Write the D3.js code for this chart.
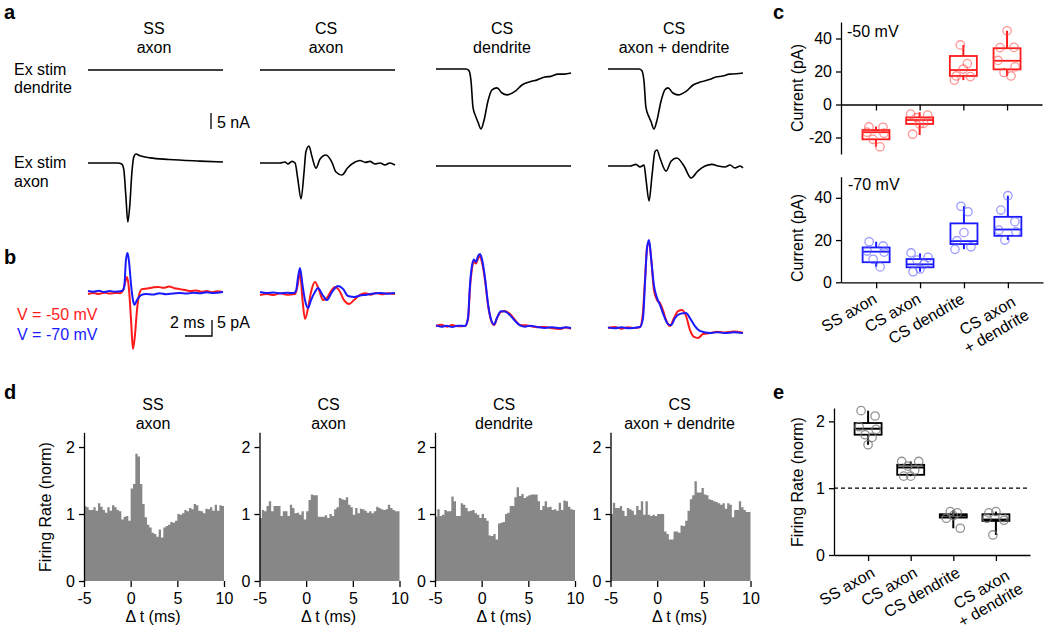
<!DOCTYPE html>
<html><head><meta charset="utf-8">
<script src="https://cdn.jsdelivr.net/npm/d3@7"></script>
<style>
body{margin:0;background:#fff}
svg{display:block}
text{font-family:"Liberation Sans",Arial,Helvetica,sans-serif;font-size:16px;fill:#000}
</style>
</head><body>
<svg id="fig" width="1050" height="640"></svg>
<script>
// ---------------- DATA ----------------
const colTitles = [["SS","axon"],["CS","axon"],["CS","dendrite"],["CS","axon + dendrite"]];
const rowLabels = [["Ex stim","dendrite"],["Ex stim","axon"]];
const legendLabels = ["V = -50 mV","V = -70 mV"];
const categories = ["SS axon","CS axon","CS dendrite","CS axon + dendrite"];
const catLabelLines = [["SS axon"],["CS axon"],["CS dendrite"],["CS axon","+ dendrite"]];

// panel a: [time ms, current nA]
const flatTrace = [[0,0],[10,0]];
const aSSaxon = [[0,0],[2.2,0],[2.5,-0.3],[2.65,-2],[2.8,-10],[2.95,-18.4],[3.1,-13],[3.25,-3],[3.4,2],[3.55,2.8],[3.85,2.3],[4.6,1.6],[6,1.1],[8.3,0.6],[10,0.3]];
const aCSaxon = [[0,0],[1.48,0],[1.85,0.3],[2.07,-0.3],[2.37,0.5],[2.6,0],[2.8,-5],[3.04,-11.2],[3.26,-3],[3.4,3.5],[3.63,5.3],[3.85,2],[4.15,-1.6],[4.44,1.2],[4.89,2.5],[5.33,0.2],[5.63,-2.8],[6.07,-3.75],[6.5,-1.5],[7.04,0.3],[7.4,0.8],[7.8,0.2],[8.15,0.5],[8.5,-0.3],[8.9,0],[9.26,-0.6],[9.6,0],[10,-0.6]];
const aCSdend = [[0,0],[2.22,0],[2.44,-0.5],[2.6,-4],[2.74,-12],[2.96,-15],[3.1,-16.5],[3.33,-18.75],[3.56,-16],[3.85,-10],[4.15,-6.5],[4.52,-5.9],[4.89,-7.5],[5.26,-8.1],[5.85,-7],[6.37,-5],[6.96,-4],[7.5,-3.4],[8.07,-2.5],[8.5,-2.3],[9.04,-1.6],[9.5,-1.6],[10,-1.25]];
const aADdend = [[0,0],[2.3,0],[2.5,-0.5],[2.67,-4],[2.81,-12],[3.04,-15],[3.19,-16.5],[3.4,-18.75],[3.63,-16],[3.93,-10],[4.22,-6.5],[4.44,-5.9],[4.81,-7.5],[5.19,-8.1],[5.78,-7],[6.3,-5],[6.9,-4],[7.5,-3.3],[8.0,-2.5],[8.5,-2.2],[9.0,-1.6],[9.5,-1.5],[10,-1.25]];
const aADaxon = [[0,0],[1.63,0],[2.07,0.5],[2.37,-0.3],[2.67,0.3],[2.81,-4],[3.04,-10.9],[3.26,-3],[3.48,4.5],[3.63,5],[3.85,2.5],[4.3,-1.6],[4.67,1.5],[5.1,2.5],[5.63,0],[6.15,-3.75],[6.67,-1.5],[7.19,0],[7.7,0.5],[8.15,0],[8.67,-0.3],[9.04,0.3],[9.4,-0.6],[9.78,0],[10,-0.6]];
const aDendRow = [flatTrace, flatTrace, aCSdend, aADdend];
const aAxonRow = [aSSaxon, aCSaxon, flatTrace, aADaxon];

// panel b: [time ms, current pA]
const bSSred = [[0,-0.6],[0.4,-0.3],[0.8,-0.6],[1.2,-0.2],[1.6,-0.5],[2.0,-0.3],[2.4,-0.4],[2.6,0.5],[2.74,2.8],[2.9,4.7],[3.04,0.6],[3.19,-8.8],[3.33,-17.8],[3.48,-13.4],[3.63,-5.6],[3.78,-0.9],[4.0,0.9],[4.4,1.1],[4.8,1.4],[5.2,1.6],[5.6,1.3],[6.0,1.7],[6.4,1.2],[6.8,0.9],[7.2,0.6],[7.6,0.3],[8.0,0.5],[8.4,0.1],[8.8,0.3],[9.2,-0.1],[9.6,0.2],[10,0]];
const bSSblue = [[0,0.3],[0.4,0.1],[0.8,0.4],[1.2,0],[1.6,0.3],[2.0,0.1],[2.4,0.2],[2.6,0.6],[2.7,2.2],[2.81,10],[2.93,12.2],[3.04,9.4],[3.19,2.2],[3.33,-2.5],[3.44,-4],[3.63,-2.5],[3.93,-1],[4.3,-0.6],[4.8,-0.8],[5.3,-0.4],[5.8,-0.7],[6.3,-0.5],[6.8,-0.3],[7.3,-0.5],[7.8,-0.2],[8.3,-0.4],[8.8,-0.1],[9.3,-0.3],[10,0]];
const bCSAred = [[0,-0.3],[0.5,0],[1,-0.3],[1.5,0.2],[2,-0.2],[2.6,0],[2.8,3],[2.96,6.9],[3.15,-1.9],[3.33,-7.8],[3.56,-4.4],[3.78,0.6],[4.07,3.75],[4.37,1.25],[4.67,-1.9],[4.96,-1.25],[5.26,0.9],[5.56,2.2],[5.85,1.25],[6.22,-1.9],[6.6,-3.1],[6.96,-1.9],[7.4,-0.3],[7.8,0.2],[8.2,-0.2],[8.6,0.3],[9,-0.1],[9.5,0.2],[10,0]];
const bCSAblue = [[0,0.6],[0.5,0.3],[1,0.5],[1.5,0.2],[2,0.4],[2.5,0.3],[2.67,1],[2.81,5],[2.96,8.1],[3.15,2.8],[3.33,-1.9],[3.56,-4.4],[3.78,-1.9],[4.07,0.6],[4.3,1.9],[4.59,0],[4.96,-1.9],[5.33,0.6],[5.78,2.5],[6.15,1.6],[6.52,-0.6],[7.04,-0.9],[7.5,-0.4],[7.8,-0.3],[8.3,0.1],[8.9,0.3],[9.4,0.1],[10,0.3]];
const bCSDred = [[0,0],[0.4,0.4],[0.8,-0.2],[1.2,0.3],[1.6,-0.1],[2.15,0],[2.37,2],[2.52,12],[2.67,18],[2.81,20],[2.96,19.5],[3.11,21],[3.26,21.9],[3.4,20],[3.63,14.4],[3.85,6.6],[4.07,1.9],[4.3,0.3],[4.52,2.5],[4.81,4.4],[5.11,4.7],[5.48,3.75],[5.85,1.9],[6.22,0.3],[6.6,0.2],[6.96,0],[7.5,-0.4],[8.07,-0.3],[8.6,-0.7],[9.19,-0.9],[9.6,-0.5],[10,-0.9]];
const bCSDblue = [[0,0.2],[0.4,-0.2],[0.8,0.1],[1.2,-0.3],[1.6,0.1],[2.15,0],[2.37,2.5],[2.52,13],[2.67,19],[2.81,20.8],[2.96,20],[3.11,21.8],[3.26,22.5],[3.4,21],[3.63,15],[3.85,7],[4.07,2.2],[4.3,0.5],[4.52,2.6],[4.81,4.6],[5.11,4.5],[5.48,3.4],[5.85,1.6],[6.22,0.2],[6.6,-0.2],[6.96,0.1],[7.5,-0.3],[8.07,-0.6],[8.6,-0.4],[9.19,-0.7],[9.6,-0.4],[10,-0.6]];
const bADred = [[0,0],[0.5,0.3],[1,-0.2],[1.5,0.2],[2,0],[2.37,0.3],[2.59,5],[2.74,15],[2.89,25],[3.04,26.9],[3.19,22],[3.4,11.9],[3.63,8.75],[3.85,7.8],[4.07,5.6],[4.3,2.5],[4.59,0.6],[4.89,3.1],[5.19,5.3],[5.48,5.6],[5.78,3.75],[6.07,-0.6],[6.37,-2.8],[6.67,-3.1],[7.04,-1.9],[7.56,-1.6],[8.1,-1.2],[8.67,-1.4],[9.3,-1.1],[10,-1.5]];
const bADblue = [[0,0.2],[0.5,-0.1],[1,0.2],[1.5,-0.1],[2,0.1],[2.37,0.3],[2.59,3],[2.74,14],[2.89,25],[3.04,27.5],[3.19,22],[3.4,13.4],[3.63,9.4],[3.85,7.2],[4.15,3.75],[4.44,1.25],[4.67,0.9],[4.96,3.1],[5.33,4.4],[5.78,4.7],[6.07,3.1],[6.44,0.6],[6.81,-0.9],[7.56,-1.6],[8.1,-1.3],[8.67,-1.6],[9.3,-1.3],[10,-1.6]];
const bRed = [bSSred, bCSAred, bCSDred, bADred];
const bBlue = [bSSblue, bCSAblue, bCSDblue, bADblue];

// panel c: box stats [whiskerLow, q1, median, q3, whiskerHigh] and points (pA)
const c50Stats = [[-25.6,-21.1,-16.8,-15.5,-13.4],[-18.5,-11.8,-9.4,-7.8,-4.7],[14.8,17.3,20.9,29.4,36.1],[17.3,21.3,26.5,34.1,44.7]];
const c50Points = [[-13.6,-13.8,-16.8,-17.4,-21.1,-25.6],[-5.8,-6.4,-8,-11.4,-11.8,-18],[36.1,24.8,21.5,17.3,16.9,14.8],[44.7,34.5,34.6,26.7,22.8,19.4,17.3]];
const c70Stats = [[7.4,9.5,14.5,16.5,19.2],[5,7.1,8.5,11,13.7],[15.7,18.1,19.5,27.9,36],[20,22,25,31,41]];
const c70Points = [[19.2,17.2,14.8,14.3,10.9,7.3],[13.9,11.8,10.5,8.6,6.3,5.0],[36,33.4,23.5,19.7,16.8,15.6],[41,34.2,28.7,24.7,23.9,20]];
const cTicks50 = [-20,0,20,40];
const cTicks70 = [0,20,40];

// panel d: normalized firing rate, 0.25 ms bins from -5 to 10 ms
const histSSaxon = [1.12,1.10,1.06,1.06,1.10,1.05,1.16,1.11,1.06,1.02,1.10,1.05,1.13,1.10,1.06,1.04,0.92,0.96,0.97,0.90,
  1.38,1.45,1.90,1.86,1.45,1.15,0.95,0.84,0.80,0.72,0.70,0.66,0.77,0.65,0.80,0.82,0.84,0.88,0.87,0.90,
  1.00,0.99,1.01,1.06,1.04,1.09,1.07,1.15,1.13,1.05,1.04,1.01,1.08,1.07,1.10,1.05,1.14,1.05,1.13,1.12];
const histCSaxon = [0.94,1.06,1.04,1.12,1.19,1.04,1.12,1.12,1.12,0.97,1.04,1.04,0.97,1.14,1.09,1.01,1.02,0.99,1.04,0.92,
  1.04,1.21,1.29,1.28,1.28,0.96,0.96,0.96,0.98,0.94,1.00,0.97,1.07,1.10,1.24,1.22,1.21,1.25,1.14,1.10,
  0.99,1.09,1.01,1.08,1.07,1.05,1.02,1.04,1.01,1.04,1.11,1.09,1.07,1.06,1.07,1.14,1.09,1.06,1.04,1.04];
const histCSdend = [0.96,1.07,0.97,0.99,1.06,1.04,1.04,1.26,1.19,0.97,0.97,1.16,1.14,1.09,1.04,1.05,1.06,1.01,0.99,0.94,
  1.00,0.94,0.90,0.68,0.67,0.70,0.62,0.86,0.87,0.88,1.00,1.02,1.12,1.12,1.25,1.40,1.27,1.30,1.24,1.26,
  1.28,1.29,1.29,1.29,1.19,1.06,1.12,1.19,1.10,1.11,1.06,1.07,1.05,1.17,1.06,1.20,1.19,1.11,1.07,1.06];
const histCSad = [1.00,1.17,1.09,1.09,1.12,1.05,0.97,1.09,1.07,1.05,0.99,1.12,1.06,1.19,0.99,1.19,0.99,0.97,0.99,0.97,
  1.00,1.00,1.00,0.74,0.70,0.62,0.62,0.74,0.74,0.72,0.83,0.82,0.90,1.05,1.22,1.28,1.49,1.32,1.32,1.39,
  1.29,1.28,1.22,1.21,1.19,1.18,1.16,1.14,1.16,1.08,1.16,1.14,0.95,1.06,1.06,1.19,1.10,1.06,1.03,1.03];
const histAll = [histSSaxon, histCSaxon, histCSdend, histCSad];
const histXTicks = [-5,0,5,10];
const histYTicks = [0,1,2];

// panel e: box stats and points (norm)
const eStats = [[1.65,1.8,1.89,1.975,2.16],[1.18,1.2,1.31,1.35,1.4],[0.4,0.56,0.59,0.61,0.67],[0.3,0.51,0.53,0.61,0.65]];
const ePoints = [[2.16,2.08,1.92,1.88,1.80,1.76,1.65],[1.4,1.4,1.33,1.27,1.18,1.18],[0.65,0.63,0.59,0.55,0.4],[0.65,0.63,0.56,0.55,0.52,0.3]];
const eTicks = [0,1,2];
const eRef = 1;

// ---------------- DRAW ----------------
const svg = d3.select("#fig");
const FONT = 16;
const RED = "#ff1a1a", BLUE = "#1a1aff";
const fmt = d => d < 0 ? "-" + Math.abs(d) : String(d);

function panelLetter(t, x, y){
  svg.append("text").attr("x",x).attr("y",y).style("font-size","20px").style("font-weight","bold").text(t);
}
function ctext(x, y, t, anchor="middle", fill="#000", size=FONT){
  return svg.append("text").attr("x",x).attr("y",y).attr("text-anchor",anchor).style("fill",fill).style("font-size",size+"px").text(t);
}

// ===== Panel a =====
panelLetter("a", 4, 19);
const traceX0 = [88, 260, 436, 608];
const traceW = 135;
const aTopBase = [70, 70, 69, 69];
const aBotBase = [163, 163, 166, 166];
const PXPERUNIT = 3.2;
colTitles.forEach((tt,i)=>{
  const cx = traceX0[i] + traceW/2 - 1.5;
  ctext(cx, 34, tt[0]); ctext(cx, 52.5, tt[1]);
});
ctext(14, 75, rowLabels[0][0], "start"); ctext(14, 93, rowLabels[0][1], "start");
ctext(14, 168, rowLabels[1][0], "start"); ctext(14, 187, rowLabels[1][1], "start");

function drawTrace(data, i, base, color, width){
  const x = d3.scaleLinear().domain([0,10]).range([traceX0[i], traceX0[i]+traceW]);
  const y = d3.scaleLinear().domain([0,5]).range([base, base-5*PXPERUNIT]);
  const line = d3.line().x(d=>x(d[0])).y(d=>y(d[1])).curve(d3.curveMonotoneX);
  svg.append("path").attr("d", line(data)).attr("fill","none").attr("stroke",color).attr("stroke-width",width).attr("stroke-linejoin","round");
  return {x,y};
}
aDendRow.forEach((d,i)=>drawTrace(d, i, aTopBase[i], "#000", 1.6));
aAxonRow.forEach((d,i)=>drawTrace(d, i, aBotBase[i], "#000", 1.6));
// 5 nA scale bar
{
  const y = d3.scaleLinear().domain([0,5]).range([129, 129-5*PXPERUNIT]);
  svg.append("line").attr("x1",211).attr("x2",211).attr("y1",y(0)).attr("y2",y(5)).attr("stroke","#000").attr("stroke-width",1.3);
  ctext(217, 128, "5 nA", "start");
}

// ===== Panel b =====
panelLetter("b", 4, 264);
const bBase = [292, 294, 326, 328];
bRed.forEach((d,i)=>drawTrace(d, i, bBase[i], RED, 2));
bBlue.forEach((d,i)=>drawTrace(d, i, bBase[i], BLUE, 2));
ctext(17, 320, legendLabels[0], "start", RED);
ctext(17, 340, legendLabels[1], "start", BLUE);
{
  const x = d3.scaleLinear().domain([0,10]).range([0, traceW]);
  const yb = 336, xr = 212;
  svg.append("path").attr("d", `M${xr - x(2)},${yb}H${xr}V${yb - 5*PXPERUNIT}`).attr("fill","none").attr("stroke","#000").attr("stroke-width",1.3);
  ctext(170, 328, "2 ms", "start");
  ctext(217, 328, "5 pA", "start");
}

// ===== box plot helper =====
function jit(i,j){ const p=[-7,7,-9,8,-3,4,0]; return p[(j + i*2) % p.length]; }

function boxPanel(opts){
  const {xRange, yDomain, yRange, ticks, stats, points, stroke, ptStroke, boxFill, medianW} = opts;
  const x = d3.scalePoint().domain(categories).range(xRange).padding(0.8);
  const y = d3.scaleLinear().domain(yDomain).range(yRange);
  const gy = svg.append("g").attr("transform",`translate(${xRange[0]},0)`)
    .call(d3.axisLeft(y).tickValues(ticks).tickSize(5).tickSizeOuter(0).tickPadding(4).tickFormat(fmt));
  gy.selectAll("text").attr("font-size",null).style("font-size",FONT+"px").attr("fill","#000");
  gy.selectAll("path,line").attr("stroke","#000").attr("stroke-width",1.3);
  const axY = y(0);
  const gx = svg.append("g").attr("transform",`translate(0,${axY})`)
    .call(d3.axisBottom(x).tickSize(6).tickSizeOuter(0).tickFormat(""));
  gx.selectAll("path,line").attr("stroke","#000").attr("stroke-width",1.3);
  const bw = 27;
  categories.forEach((c,i)=>{
    const cx = x(c), s = stats[i];
    svg.append("rect").attr("x",cx-bw/2).attr("y",y(s[3])).attr("width",bw).attr("height",Math.max(0.5,y(s[1])-y(s[3])))
      .attr("fill",boxFill).attr("stroke",stroke).attr("stroke-width",1.8);
    svg.append("line").attr("x1",cx-bw/2).attr("x2",cx+bw/2).attr("y1",y(s[2])).attr("y2",y(s[2])).attr("stroke",stroke).attr("stroke-width",medianW);
    svg.append("line").attr("x1",cx).attr("x2",cx).attr("y1",y(s[3])).attr("y2",y(s[4])).attr("stroke",stroke).attr("stroke-width",2);
    svg.append("line").attr("x1",cx).attr("x2",cx).attr("y1",y(s[0])).attr("y2",y(s[1])).attr("stroke",stroke).attr("stroke-width",2);
    points[i].forEach((v,j)=>{
      svg.append("circle").attr("cx",cx+jit(i,j)).attr("cy",y(v)).attr("r",4.2)
        .attr("fill","none").attr("stroke",ptStroke).attr("stroke-width",1.3);
    });
  });
  return {x,y};
}
function rotLabels(x, axY, dx, dy){
  catLabelLines.forEach((lines,i)=>{
    const multi = lines.length > 1;
    const g = svg.append("g").attr("transform",`translate(${x(categories[i])+dx+(multi?7:0)},${axY+dy+(multi?3:0)}) rotate(-30)`);
    const t1 = g.append("text").attr("text-anchor","end").attr("dy","0.35em").text(lines[0]);
    if(multi){
      const w1 = t1.node().getComputedTextLength();
      g.append("text").attr("text-anchor","middle").attr("x",-w1/2).attr("y",18).attr("dy","0.35em").text(lines[1]);
    }
  });
}
function rotYLabel(x, y, t){
  svg.append("text").attr("transform",`translate(${x},${y}) rotate(-90)`).attr("text-anchor","middle").text(t);
}

// ===== Panel c =====
panelLetter("c", 773, 19);
boxPanel({xRange:[841,1042], yDomain:[-30,50], yRange:[154,22], ticks:cTicks50, stats:c50Stats, points:c50Points,
  stroke:RED, ptStroke:"rgba(255,80,80,0.6)", boxFill:"none", medianW:1.8});
ctext(847, 37, "-50 mV", "start");
rotYLabel(803, 88, "Current (pA)");
const c70 = boxPanel({xRange:[841,1043], yDomain:[0,50], yRange:[282.3,176.7], ticks:cTicks70, stats:c70Stats, points:c70Points,
  stroke:BLUE, ptStroke:"rgba(90,90,255,0.6)", boxFill:"none", medianW:1.8});
ctext(848, 190, "-70 mV", "start");
rotYLabel(803, 238, "Current (pA)");
rotLabels(c70.x, 282.3, -1, 15);

// ===== Panel d =====
panelLetter("d", 4, 399);
const histX0 = [84, 259.5, 435, 610.5];
const histW = 140;
histAll.forEach((h,i)=>{
  const x = d3.scaleLinear().domain([-5,10]).range([histX0[i], histX0[i]+histW]);
  const y = d3.scaleLinear().domain([0,2.22]).range([581, 432.3]);
  const pts = h.map((v,k)=>[-5 + k*0.25, v]);
  pts.push([10, h[h.length-1]]);
  const area = d3.area().x(d=>x(d[0])).y0(y(0)).y1(d=>y(d[1])).curve(d3.curveStepAfter);
  svg.append("path").attr("d", area(pts)).attr("fill","#878787");
  const gy = svg.append("g").attr("transform",`translate(${histX0[i]},0)`)
    .call(d3.axisLeft(y).tickValues(histYTicks).tickSize(5).tickSizeOuter(0).tickPadding(4).tickFormat(fmt));
  gy.selectAll("text").attr("font-size",null).style("font-size",FONT+"px");
  gy.selectAll("path,line").attr("stroke","#000").attr("stroke-width",1.3);
  const gx = svg.append("g").attr("transform",`translate(0,581)`)
    .call(d3.axisBottom(x).tickValues(histXTicks).tickSize(6).tickSizeOuter(0).tickPadding(6).tickFormat(fmt));
  gx.select(".domain").remove();
  gx.selectAll("line").attr("stroke","#000").attr("stroke-width",1.3);
  gx.selectAll("text").attr("font-size",null).style("font-size",FONT+"px");
  const cx = histX0[i] + histW/2 - 1;
  ctext(cx, 410, colTitles[i][0]); ctext(cx, 428.5, colTitles[i][1]);
  ctext(cx, 622, "\u0394 t (ms)");
});
rotYLabel(51, 507, "Firing Rate (norm)");

// ===== Panel e =====
panelLetter("e", 773, 399);
const eP = boxPanel({xRange:[834,1030], yDomain:[0,2.2], yRange:[555,408], ticks:eTicks, stats:eStats, points:ePoints,
  stroke:"#000", ptStroke:"rgba(120,120,120,0.8)", boxFill:"#fff", medianW:2});
svg.append("line").attr("x1",834).attr("x2",1030).attr("y1",eP.y(eRef)).attr("y2",eP.y(eRef))
  .attr("stroke","#000").attr("stroke-width",1.3).attr("stroke-dasharray","4,3");
rotYLabel(803, 482, "Firing Rate (norm)");
rotLabels(eP.x, 555, 5, 16);
</script>
</body></html>
